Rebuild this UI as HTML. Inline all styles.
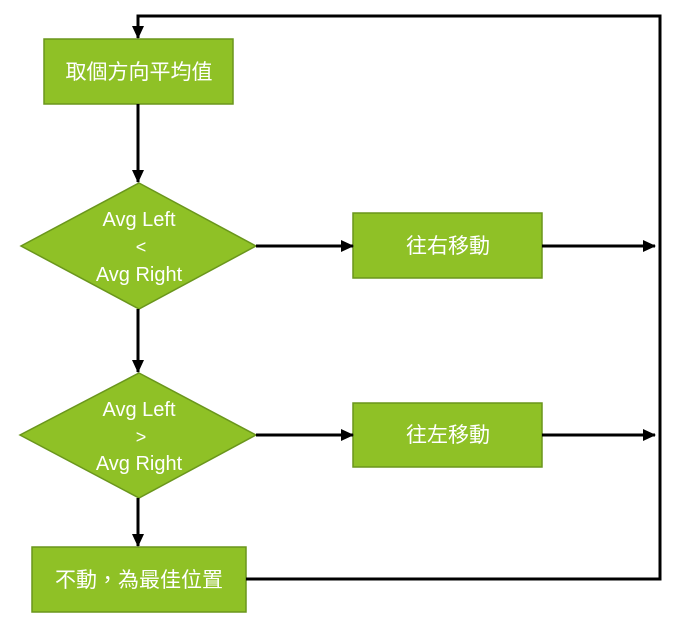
<!DOCTYPE html>
<html><head><meta charset="utf-8"><style>body{margin:0;background:#fff}</style></head>
<body>
<svg width="682" height="634" viewBox="0 0 682 634" xmlns="http://www.w3.org/2000/svg" font-family="'Liberation Sans','Noto Sans CJK TC',sans-serif">
<defs><marker id="a" markerWidth="13" markerHeight="12" refX="12" refY="6" orient="auto" markerUnits="userSpaceOnUse"><path d="M0,0 L13,6 L0,12 z" fill="#000"/></marker></defs>
<g fill="#8fc126" stroke="#6a961c" stroke-width="1.5">
<rect x="44" y="39" width="189" height="65"/>
<polygon points="139,183 256,246 139,309 21,246"/>
<rect x="353" y="213" width="189" height="65"/>
<polygon points="139,373 256,435 139,498 20,435"/>
<rect x="353" y="403" width="189" height="64"/>
<rect x="32" y="547" width="214" height="65"/>
</g>
<g stroke="#000" stroke-width="3" fill="none">
<line x1="138" y1="104" x2="138" y2="182" marker-end="url(#a)"/>
<line x1="256" y1="246" x2="353" y2="246" marker-end="url(#a)"/>
<line x1="542" y1="246" x2="655" y2="246" marker-end="url(#a)"/>
<line x1="138" y1="309" x2="138" y2="372" marker-end="url(#a)"/>
<line x1="256" y1="435" x2="353" y2="435" marker-end="url(#a)"/>
<line x1="542" y1="435" x2="655" y2="435" marker-end="url(#a)"/>
<line x1="138" y1="498" x2="138" y2="546" marker-end="url(#a)"/>
<polyline points="246,579 660,579 660,16 138,16 138,38" marker-end="url(#a)"/>
</g>
<g fill="#fff" font-size="21" text-anchor="middle">
<text x="139" y="79">取個方向平均值</text>
<text x="448" y="253">往右移動</text>
<text x="448" y="442">往左移動</text>
<text x="139" y="587">不動，為最佳位置</text>
</g>
<g fill="#fff" font-size="20" text-anchor="middle">
<text x="139" y="226">Avg Left</text>
<text x="141" y="253" font-size="18">&lt;</text>
<text x="139" y="281">Avg Right</text>
<text x="139" y="416">Avg  Left</text>
<text x="141" y="443" font-size="18">&gt;</text>
<text x="139" y="470">Avg Right</text>
</g>
</svg>
</body></html>
